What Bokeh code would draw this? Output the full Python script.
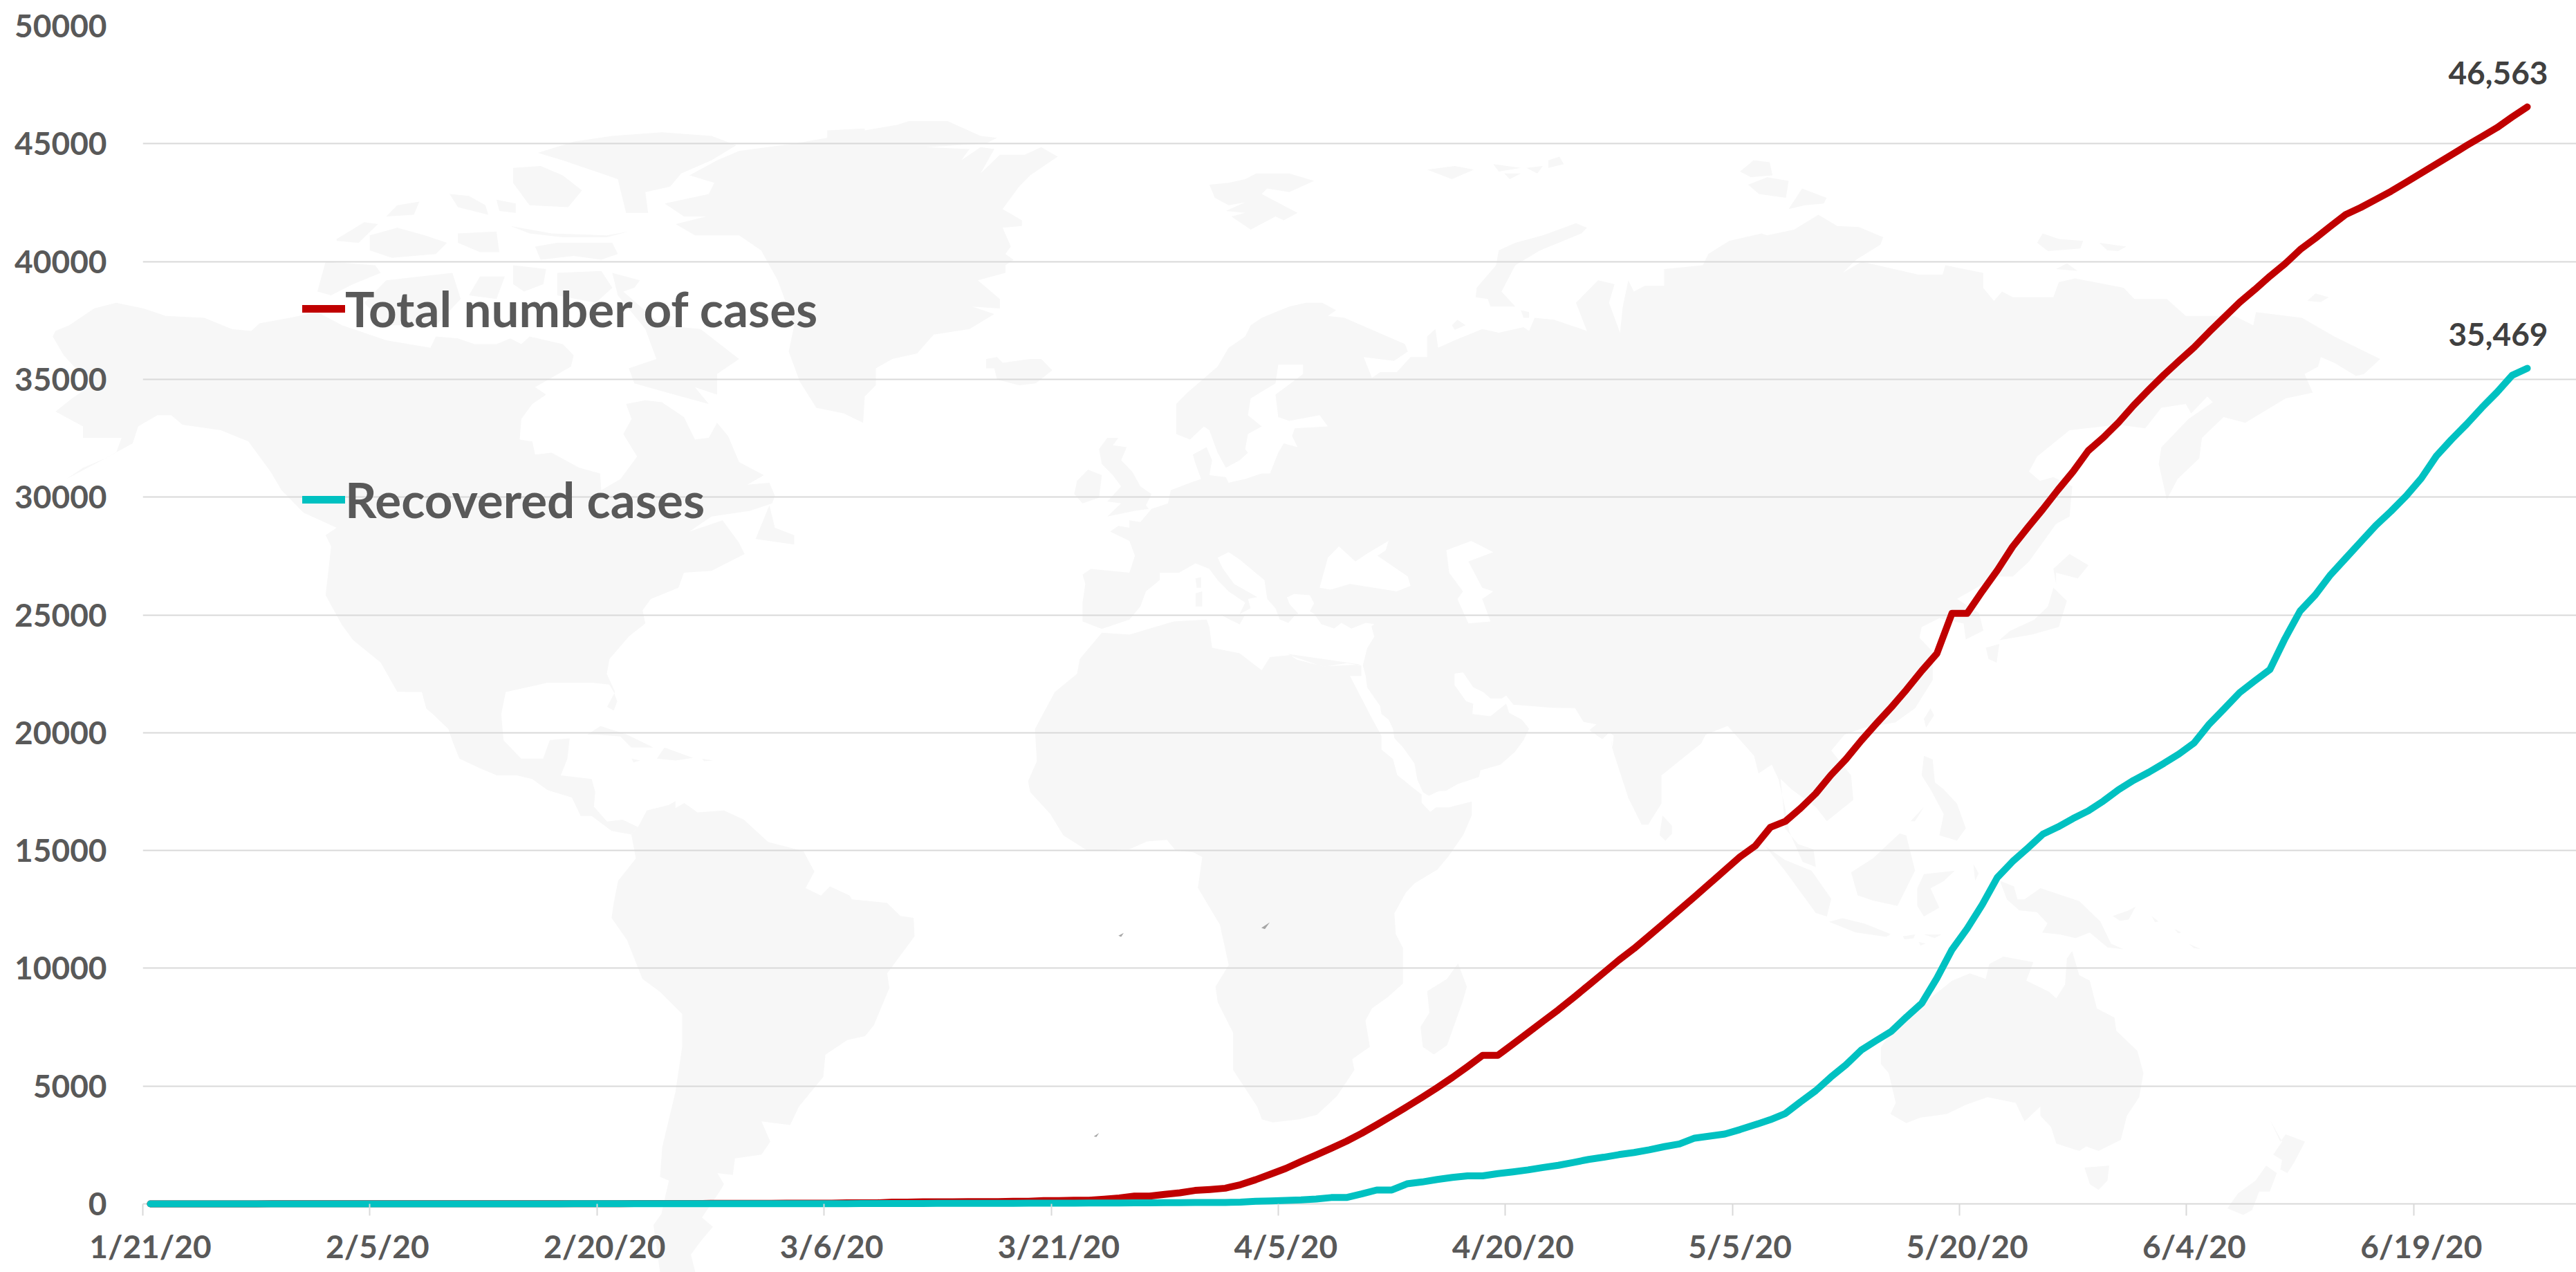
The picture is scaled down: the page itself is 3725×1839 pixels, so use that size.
import pandas as pd
from bokeh.embed import file_html
from bokeh.layouts import column
from bokeh.models import FixedTicker, Label, Legend, LegendItem, Range1d
from bokeh.plotting import figure
from bokeh.resources import INLINE

dates = [f"{d.month}/{d.day}/{d.strftime('%y')}"
         for d in pd.date_range("2020-01-21", periods=158)]

total_cases = [
    0, 0, 0, 0, 0, 0, 0, 0,
    4, 4, 4, 4, 5, 5, 5, 5, 5, 5,
    7, 7, 8, 8, 8, 8, 8, 8, 9, 9, 9, 9,
    9, 9, 13, 13, 13, 13, 13, 19, 19, 21,
    21, 21, 27, 27, 29, 29, 45, 45, 45, 74,
    74, 85, 85, 85, 98, 98, 98, 113, 113, 140,
    140, 153, 153, 198, 248, 333, 333, 405, 468, 570,
    611, 664, 814, 1024, 1264, 1505, 1799, 2076, 2359, 2659,
    2990, 3360, 3736, 4123, 4521, 4933, 5365, 5825, 6302, 6302,
    6781, 7265, 7755, 8238, 8756, 9281, 9813, 10349, 10839, 11380,
    11929, 12481, 13038, 13599, 14163, 14730, 15192, 15980, 16240, 16793,
    17417, 18198, 18878, 19661, 20386, 21084, 21831, 22627, 23358, 25063,
    25063, 26004, 26898, 27892, 28704, 29485, 30307, 31086, 31969, 32532,
    33170, 33896, 34557, 35192, 35788, 36359, 37018, 37642, 38268, 38808,
    39376, 39904, 40507, 40986, 41499, 41990, 42294, 42636, 42982, 43364,
    43752, 44145, 44533, 44925, 45303, 45683, 46133, 46563,
]

recovered_cases = [
    0, 0, 0, 0, 0, 0, 0, 0,
    0, 0, 0, 0, 0, 0, 0, 0, 0, 0, 0, 0,
    1, 1, 1, 3, 3, 3, 3, 3, 4, 4,
    5, 5, 5, 5, 5, 5, 5, 5, 5, 5,
    5, 5, 5, 5, 5, 5, 5, 12, 12, 17,
    17, 17, 20, 20, 20, 20, 23, 25, 26, 26,
    26, 31, 38, 38, 38, 41, 45, 52, 52, 58,
    58, 61, 75, 108, 125, 144, 167, 205, 268, 268,
    420, 588, 588, 850, 930, 1034, 1122, 1188, 1188, 1286,
    1360, 1443, 1546, 1637, 1760, 1887, 1980, 2090, 2181, 2296,
    2429, 2543, 2791, 2876, 2966, 3153, 3359, 3572, 3837, 4332,
    4804, 5381, 5904, 6523, 6932, 7328, 7937, 8512, 9577, 10791,
    11680, 12700, 13860, 14530, 15100, 15690, 16000, 16360, 16680, 17100,
    17580, 17980, 18320, 18700, 19100, 19570, 20370, 21030, 21700, 22200,
    22680, 24000, 25170, 25850, 26700, 27400, 28100, 28800, 29400, 30050,
    30800, 31750, 32450, 33100, 33800, 34450, 35170, 35469,
]

series_names = ["Total number of cases", "Recovered cases"]
y_ticks = list(range(0, 50001, 5000))
x_tick_days = list(range(0, 158, 15))

# Backdrop world map: each block of outline points has its own origin and scale,
# (left, top, x scale, y scale), which turns it into canvas pixels.
NW = (0, 150, 1.2544, 1.845)
NC = (1250, 150, 1.2544, 1.845)
NE = (2500, 150, 1.28, 1.845)
SA = (600, 1000, 1.568, 1.869)
OC = (2700, 1000, 1.96, 1.869)
AF = (1400, 1100, 1.568, 2.24)
AS = (2300, 600, 1.568, 1.96)
ME = (1850, 850, 2.412, 3.0)

north_america = [
    (NW, [(100, 605), (125, 590), (170, 545), (210, 530), (260, 545), (300, 565), (370, 570),
          (420, 600), (455, 605), (470, 585), (525, 570), (575, 555), (620, 590), (700, 630),
          (780, 650), (790, 620), (830, 625), (860, 640), (900, 640), (925, 625), (945, 640),
          (960, 620), (1020, 640), (1040, 670), (1035, 700), (970, 755), (990, 775), (965, 800),
          (945, 840), (942, 895), (965, 900), (970, 935), (1000, 930), (1050, 970), (1088, 985),
          (1090, 1030), (1125, 1000), (1155, 940), (1130, 880), (1145, 840), (1135, 800),
          (1170, 790), (1200, 795), (1240, 835), (1260, 895), (1285, 890), (1300, 850),
          (1320, 885), (1340, 955), (1385, 990), (1355, 1015), (1395, 1010), (1405, 1045),
          (1400, 1065), (1360, 1085), (1290, 1100), (1250, 1140), (1310, 1110), (1340, 1170),
          (1350, 1200), (1290, 1245), (1240, 1250), (1230, 1290), (1180, 1320), (1165, 1350),
          (1170, 1385), (1140, 1420), (1105, 1480), (1100, 1520), (1115, 1568)]),
    (SA, [(435, 40), (450, 50), (458, 25), (450, 0), (440, -20), (400, -25), (300, -25), (205, 0),
          (195, 60), (200, 130), (240, 180), (290, 180), (305, 130), (350, 125), (345, 180),
          (330, 225), (400, 235), (408, 270), (405, 310), (435, 350), (470, 345), (505, 365),
          (490, 385), (445, 375), (400, 335), (375, 335), (355, 285), (300, 265), (265, 235),
          (230, 225), (185, 225), (145, 205), (100, 180), (85, 135), (75, 100), (40, 60),
          (25, 45), (15, 0)]),
    (NW, [(720, 1568), (690, 1490), (640, 1430), (620, 1390), (590, 1310), (600, 1180),
          (590, 1150), (610, 1130), (550, 1090), (510, 1030), (490, 980), (450, 900), (400, 870),
          (330, 855), (310, 830), (285, 830), (250, 860), (240, 905), (190, 945), (150, 970),
          (120, 1000), (210, 930), (220, 890), (150, 890), (150, 860), (100, 820), (130, 785),
          (165, 750), (115, 670), (95, 620)]),
]

south_america = [
    (SA, [(505, 365), (525, 320), (575, 305), (590, 295), (590, 345), (580, 320), (610, 300),
          (640, 325), (700, 320), (745, 345), (800, 405), (880, 430), (905, 485), (885, 530),
          (920, 550), (940, 525), (985, 550), (990, 560), (1070, 570), (1100, 605), (1130, 610),
          (1132, 660), (1070, 760), (1075, 800), (1040, 900), (1020, 930), (980, 940), (930, 980),
          (925, 1040), (870, 1120), (850, 1170), (785, 1160), (805, 1215), (785, 1250), (725, 1260),
          (720, 1305), (685, 1300), (700, 1330), (690, 1350), (650, 1420), (675, 1445), (650, 1480),
          (625, 1520), (635, 1568), (555, 1568), (540, 1440), (558, 1410), (575, 1320), (555, 1310),
          (560, 1230), (590, 1080), (605, 960), (605, 870), (555, 810), (515, 775), (480, 670),
          (445, 610), (450, 570), (460, 510), (500, 450), (490, 385)]),
]

eurasia = [
    (NC, [(395, 1380), (395, 1330), (400, 1280), (395, 1255), (410, 1240), (480, 1250), (490, 1205),
          (480, 1165), (445, 1140), (460, 1125), (480, 1130), (480, 1110), (500, 1115), (520, 1080),
          (550, 1065), (555, 1030), (590, 1010), (610, 1000), (600, 960), (595, 935), (620, 915),
          (630, 950), (625, 990), (655, 995), (660, 1010), (690, 1000), (720, 985), (735, 985),
          (750, 930), (760, 905), (785, 915), (775, 885), (780, 865), (840, 860), (825, 830),
          (770, 845), (750, 835), (745, 775), (795, 720), (795, 695), (750, 695), (745, 745),
          (700, 785), (695, 830), (720, 860), (695, 880), (690, 920), (695, 930), (680, 950),
          (655, 970), (640, 930), (625, 870), (615, 860), (590, 895), (565, 880), (565, 800),
          (585, 770), (640, 700), (660, 650), (690, 620), (700, 590), (720, 570), (745, 555),
          (770, 540), (800, 530), (830, 530), (855, 550), (840, 565), (870, 570), (980, 640),
          (985, 660), (960, 685), (905, 675), (920, 730), (935, 715), (965, 715), (990, 675),
          (1020, 675), (1020, 620), (1035, 600), (1040, 650), (1070, 630), (1120, 600), (1150, 610),
          (1195, 595), (1205, 605), (1215, 570), (1250, 575), (1310, 605), (1290, 530), (1330, 470),
          (1360, 480), (1350, 530), (1370, 610), (1375, 540), (1385, 470), (1395, 500), (1415, 485),
          (1450, 485), (1450, 440), (1520, 430), (1530, 400), (1568, 365)]),
    (NE, [(0, 365), (60, 345), (70, 350), (120, 335), (165, 295), (200, 325), (240, 328), (285, 355),
          (280, 375), (235, 415), (210, 450), (245, 420), (350, 455), (395, 455), (400, 430),
          (470, 450), (470, 490), (490, 525), (505, 500), (525, 515), (600, 515), (610, 475),
          (640, 465), (730, 490), (750, 520), (810, 520), (845, 565), (935, 565), (970, 590),
          (975, 555), (1060, 570), (1120, 620), (1205, 680), (1175, 720), (1160, 725), (1120, 690),
          (1095, 675), (1090, 700), (1065, 720), (1080, 770), (1030, 785), (955, 850), (915, 835),
          (875, 890), (870, 945), (830, 1000), (810, 1055), (795, 960), (800, 915), (850, 840),
          (895, 795), (885, 780), (855, 825), (845, 800), (800, 810), (770, 865), (720, 855),
          (630, 870), (570, 940), (555, 980), (575, 1005), (600, 995), (635, 1020), (630, 1100),
          (605, 1120), (585, 1160), (555, 1220), (525, 1260), (495, 1260)]),
    (AS, [(830, 520), (880, 560), (890, 610), (850, 635), (845, 590), (790, 575), (750, 600),
          (745, 630), (775, 670), (775, 750), (735, 830), (690, 870), (620, 885), (575, 905),
          (545, 950), (590, 1020), (595, 1090), (535, 1150), (510, 1110), (455, 1060), (430, 1030),
          (435, 1090), (440, 1170), (470, 1215), (505, 1230), (510, 1280), (480, 1265), (450, 1180),
          (440, 1110), (425, 1030), (410, 990), (380, 1015), (370, 965), (310, 880), (260, 905),
          (250, 930), (200, 980), (160, 1020), (160, 1100), (130, 1160), (115, 1160), (85, 1085),
          (50, 950), (45, 910)]),
    (ME, [(1160, 700), (1165, 640), (1150, 625), (1125, 655), (1080, 615), (1105, 590), (1060, 580),
          (1030, 520), (950, 518), (815, 505), (790, 465), (775, 478), (735, 478), (710, 450),
          (675, 430), (640, 365), (610, 370), (610, 420), (650, 490), (675, 500), (672, 545),
          (735, 555), (790, 500), (800, 540), (845, 570), (870, 610), (850, 660), (820, 710),
          (770, 765), (700, 790), (695, 818), (620, 850), (580, 878), (555, 880), (520, 900),
          (500, 885), (480, 830), (470, 760), (430, 690), (400, 650), (395, 610), (380, 570),
          (355, 545), (350, 510), (305, 430), (300, 380), (290, 335), (305, 260), (330, 210),
          (320, 165), (330, 155), (300, 150), (250, 175), (215, 150), (190, 175), (145, 155),
          (120, 110), (105, 100), (120, 65), (105, 30), (50, 25), (25, 40), (35, 70), (65, 110),
          (55, 115), (30, 150), (0, 135)]),
    (NC, [(745, 1345), (730, 1320), (725, 1270), (680, 1215), (660, 1195), (640, 1210), (650, 1240),
          (670, 1280), (712, 1315), (695, 1320), (700, 1345), (680, 1360), (690, 1330), (660, 1300),
          (640, 1270), (625, 1240), (600, 1225), (570, 1250), (535, 1250), (535, 1270), (510, 1300),
          (500, 1340), (480, 1375), (430, 1400)]),
]

africa = [
    (NC, [(430, 1410), (480, 1415), (560, 1380), (620, 1375), (625, 1395), (630, 1450), (680, 1465),
          (720, 1510), (735, 1475), (770, 1470), (830, 1500), (900, 1495)]),
    (ME, [(30, 285), (60, 310), (155, 340), (235, 325), (285, 335), (285, 380), (245, 380), (320, 560),
          (355, 640), (355, 700), (395, 740), (410, 810), (460, 860), (495, 895), (495, 930),
          (525, 970), (545, 950), (590, 950), (670, 925), (670, 985), (640, 1070), (590, 1160),
          (550, 1220), (470, 1280), (440, 1320), (400, 1410), (405, 1500), (430, 1560)]),
    (AF, [(985, 620), (985, 720), (950, 765), (915, 800), (900, 840), (910, 925), (870, 965),
          (875, 1000), (835, 1085), (790, 1145), (750, 1160), (690, 1170), (665, 1160), (655, 1120),
          (600, 1000), (600, 880), (565, 780), (560, 730), (590, 660), (570, 530), (520, 410),
          (530, 310), (510, 295), (470, 290), (450, 255), (405, 260), (365, 285), (270, 290),
          (215, 240), (185, 170), (140, 100), (135, 65), (155, 0)]),
    (SA, [(1405, 100), (1450, 0)]),
    (NC, [(385, 1520), (390, 1480)]),
]

greenland = [
    (NW, [(1500, 70), (1568, 65)]),
    (NC, [(0, 70), (60, 55), (80, 45), (150, 45), (210, 85), (240, 90), (220, 105), (110, 115), (190, 120),
          (175, 150), (210, 115), (235, 120), (210, 185), (245, 135), (290, 135), (320, 115), (350, 140),
          (300, 190), (280, 220), (250, 280), (285, 310), (285, 325), (250, 330), (265, 380), (255, 400),
          (270, 415), (255, 430), (255, 450), (205, 470), (245, 520), (245, 545), (195, 540), (235, 560),
          (190, 600), (125, 615), (95, 665), (50, 680), (20, 705), (20, 750), (0, 780)]),
    (NW, [(1565, 850), (1530, 825), (1480, 810), (1450, 740), (1430, 660), (1440, 590), (1410, 470),
          (1380, 390), (1340, 350), (1260, 350), (1225, 320), (1280, 300), (1240, 300), (1205, 265),
          (1285, 240), (1295, 210), (1250, 190), (1300, 150), (1340, 125), (1440, 105), (1500, 90)]),
]

islands = [
    # Canadian Arctic
    (NW, [(975, 130), (1040, 100), (1110, 85), (1200, 75), (1290, 85), (1335, 110), (1290, 150), (1235, 185),
          (1215, 220), (1170, 235), (1175, 290), (1135, 290), (1120, 200), (1020, 150)]),
    (NW, [(930, 170), (980, 165), (1020, 190), (1055, 230), (1030, 275), (960, 270), (930, 210)]),
    (NW, [(815, 240), (850, 245), (880, 270), (885, 295), (830, 275)]),
    (NW, [(900, 255), (935, 265), (935, 290), (905, 285)]),
    (NW, [(720, 270), (760, 260), (750, 295), (700, 300)]),
    (NW, [(610, 360), (660, 315), (685, 320), (650, 370), (610, 365)]),
    (NW, [(670, 350), (720, 330), (770, 350), (810, 370), (790, 400), (710, 410), (670, 390)]),
    (NW, [(830, 345), (900, 340), (905, 395), (870, 395), (830, 370)]),
    (NW, [(925, 325), (1000, 345), (1100, 350), (1140, 340), (1100, 355), (1020, 355), (960, 345)]),
    (NW, [(970, 380), (1010, 370), (1110, 370), (1120, 400), (1090, 415), (1040, 405), (980, 415)]),
    (NW, [(590, 420), (680, 430), (690, 450), (640, 480), (600, 510), (575, 500)]),
    (NW, [(700, 470), (820, 450), (835, 520), (790, 590), (700, 590), (660, 530)]),
    (NW, [(870, 460), (915, 460), (900, 520), (850, 510)]),
    (NW, [(930, 430), (990, 440), (985, 480), (950, 500), (930, 480)]),
    (NW, [(1010, 450), (1090, 445), (1110, 490), (1080, 530), (1010, 510)]),
    (NW, [(1110, 450), (1160, 470), (1150, 490), (1130, 500), (1200, 590), (1270, 600), (1340, 680), (1300, 720),
          (1300, 775), (1260, 755), (1285, 800), (1210, 770), (1150, 745), (1140, 705), (1190, 680), (1170, 600),
          (1120, 510)]),
    (NW, [(1395, 1070), (1405, 1130), (1440, 1150), (1440, 1175), (1370, 1160)]),
    # Caribbean
    (SA, [(390, 115), (420, 92), (480, 115), (540, 150), (490, 150), (465, 120), (410, 115)]),
    (SA, [(548, 180), (565, 150), (630, 178), (590, 185)]),
    (SA, [(490, 180), (510, 185), (495, 190)]),
    (SA, [(650, 180), (675, 185), (655, 187)]),
    # North Atlantic and Europe
    (NC, [(220, 680), (240, 675), (250, 690), (300, 680), (320, 680), (340, 710), (310, 745), (280, 750),
          (240, 735), (235, 705), (220, 705)]),
    (NC, [(440, 890), (460, 890), (450, 910), (475, 915), (465, 950), (485, 980), (500, 1020), (520, 1040),
          (510, 1070), (515, 1080), (490, 1085), (440, 1100), (465, 1065), (440, 1060), (465, 1020), (450, 990),
          (430, 960), (425, 920)]),
    (NC, [(385, 1005), (405, 975), (430, 990), (425, 1050), (395, 1065), (380, 1040)]),
    (NC, [(625, 215), (660, 210), (690, 200), (710, 185), (770, 185), (815, 205), (770, 235), (730, 225),
          (720, 240), (785, 290), (760, 310), (745, 300), (700, 335), (665, 300), (690, 290), (655, 285),
          (690, 262), (660, 270), (635, 250)]),
    (NC, [(1310, 330), (1290, 318), (1230, 350), (1180, 370), (1150, 390), (1145, 430), (1110, 490), (1108, 515),
          (1130, 520), (1135, 540), (1180, 540), (1155, 500), (1180, 430), (1225, 390), (1300, 345)]),
    (NC, [(1020, 175), (1070, 165), (1105, 175), (1065, 200)]),
    (NC, [(1140, 160), (1190, 170), (1150, 180)]),
    (NC, [(1160, 185), (1190, 185), (1170, 200)]),
    (NC, [(1200, 170), (1230, 165), (1220, 185)]),
    (NC, [(1240, 150), (1260, 140), (1268, 160), (1240, 170)]),
    (NC, [(1065, 590), (1075, 575), (1090, 590), (1070, 602)]),
    (NC, [(1190, 550), (1205, 555), (1205, 570), (1195, 570)]),
    (NC, [(600, 1265), (610, 1262), (610, 1290), (602, 1290)]),
    (NC, [(600, 1305), (612, 1300), (612, 1340), (600, 1340)]),
    (NC, [(645, 1362), (690, 1362), (680, 1388)]),
    # Siberian Arctic and Japan
    (NE, [(20, 180), (45, 150), (75, 155), (80, 190), (40, 195)]),
    (NE, [(35, 215), (70, 195), (110, 205), (105, 250), (55, 240)]),
    (NE, [(110, 280), (135, 225), (180, 250), (175, 265), (140, 270)]),
    (NE, [(570, 370), (580, 345), (610, 360), (655, 365), (650, 385), (590, 392)]),
    (NE, [(685, 370), (735, 380), (720, 392), (700, 390)]),
    (NE, [(605, 440), (625, 425), (645, 445)]),
    (NE, [(1070, 525), (1085, 505), (1110, 515), (1095, 528)]),
    (NE, [(630, 1200), (665, 1230), (645, 1265), (605, 1250), (605, 1280), (600, 1240)]),
    (NE, [(600, 1290), (625, 1325), (610, 1395), (560, 1415), (500, 1430), (520, 1405), (565, 1375), (590, 1340)]),
    (NE, [(475, 1450), (500, 1440), (495, 1490), (480, 1480)]),
    # Indian Ocean and Southeast Asia
    (AF, [(1110, 655), (1130, 730), (1120, 780), (1085, 920), (1055, 950), (1030, 925), (1025, 860), (1045, 815),
          (1040, 745), (1085, 705)]),
    (ME, [(1335, 985), (1368, 1030), (1368, 1065), (1345, 1095), (1325, 1070)]),
    (AS, [(770, 830), (778, 850), (760, 885), (755, 860)]),
    (AS, [(755, 965), (775, 975), (780, 1040), (800, 1060), (830, 1100), (850, 1170), (830, 1205), (790, 1190),
          (800, 1130), (770, 1060), (750, 1020)]),
    (AS, [(725, 1150), (755, 1110), (735, 1150)]),
    (AS, [(590, 1295), (640, 1255), (700, 1185), (715, 1190), (735, 1290), (695, 1390), (640, 1375), (605, 1360)]),
    (AS, [(395, 1220), (440, 1260), (500, 1290), (545, 1370), (535, 1420), (510, 1410), (440, 1290)]),
    (AS, [(540, 1435), (570, 1425), (620, 1440), (680, 1470), (670, 1478), (600, 1465)]),
    (AS, [(755, 1300), (825, 1290), (800, 1320), (770, 1340), (790, 1395), (755, 1420), (740, 1390), (740, 1340)]),
    # Oceania
    (OC, [(375, 510), (415, 525), (425, 560), (445, 560), (490, 530), (600, 565), (660, 620), (690, 680), (725, 695),
          (680, 690), (630, 650), (590, 665), (545, 655), (495, 650), (510, 625), (480, 595), (430, 590), (395, 560)]),
    (OC, [(100, 660), (135, 655), (130, 666), (105, 668)]),
    (OC, [(160, 655), (210, 655), (190, 665)]),
    (OC, [(145, 675), (165, 680), (150, 685)]),
    (OC, [(300, 465), (315, 490), (305, 510)]),
    (OC, [(695, 605), (740, 590), (760, 580), (740, 615), (715, 618)]),
    (OC, [(805, 605), (825, 620), (815, 622)]),
    (OC, [(870, 640), (890, 650), (880, 652)]),
    (OC, [(910, 680), (945, 695), (925, 692)]),
    (OC, [(38, 960), (70, 915), (150, 850), (200, 810), (240, 780), (290, 760), (335, 775), (345, 735), (385, 715),
          (470, 730), (450, 780), (515, 810), (535, 828), (560, 790), (565, 720), (580, 700), (600, 765), (630, 780),
          (650, 855), (700, 880), (705, 915), (765, 970), (782, 1030), (770, 1095), (735, 1145), (718, 1210),
          (655, 1240), (620, 1228), (600, 1240), (535, 1220), (520, 1175), (490, 1145), (490, 1120), (445, 1160),
          (420, 1110), (340, 1095), (280, 1115), (225, 1140), (150, 1150), (110, 1165), (65, 1140), (80, 1110),
          (60, 1030), (38, 1005)]),
    (OC, [(615, 1285), (685, 1280), (680, 1320), (655, 1345), (630, 1330)]),
    (OC, [(1140, 1155), (1170, 1215), (1185, 1195), (1240, 1215), (1210, 1270), (1190, 1300), (1170, 1290),
          (1175, 1265), (1150, 1250), (1175, 1215)]),
    (OC, [(1130, 1280), (1160, 1300), (1140, 1350), (1110, 1350), (1090, 1400), (1065, 1413), (1020, 1395),
          (1050, 1355), (1100, 1320)]),
]

inland_seas = [
    # Black Sea and Caspian Sea
    (NC, [(825, 1290), (840, 1210), (860, 1180), (890, 1220), (910, 1200), (950, 1165), (945, 1190), (930, 1205),
          (985, 1260), (990, 1285), (965, 1300), (880, 1280), (845, 1295)]),
    (NC, [(1055, 1190), (1100, 1165), (1140, 1195), (1095, 1220), (1120, 1290), (1140, 1300), (1120, 1320),
          (1135, 1380), (1095, 1385), (1075, 1320), (1085, 1300), (1060, 1250)]),
]

dust_specks = [
    (AF, [(340, 565), (352, 556), (346, 569)]),
    (AF, [(664, 540), (683, 522), (672, 544)]),
    (AF, [(284, 1215), (296, 1204), (290, 1217)]),
]


def to_canvas(blocks):
    xs, ys = [], []
    for (left, top, sx, sy), points in blocks:
        xs += [left + px / sx for px, _ in points]
        ys += [top + py / sy for _, py in points]
    return xs, ys


WIDTH, HEIGHT = 3725, 1839
BG_GREY = "#F7F7F7"

# The map fills the whole page, so it gets a borderless figure of its own behind the chart.
backdrop = figure(width=WIDTH, height=HEIGHT, output_backend="svg", toolbar_location=None,
                  x_range=Range1d(0, WIDTH), y_range=Range1d(HEIGHT, 0),
                  x_axis_type=None, y_axis_type=None, min_border=0, outline_line_color=None,
                  margin=(0, 0, -HEIGHT, 0), frame_align=False)
backdrop.grid.visible = False


def draw_shapes(shapes, color):
    pairs = [to_canvas(s) for s in shapes]
    backdrop.patches([a for a, _ in pairs], [b for _, b in pairs], fill_color=color, line_color=None)


draw_shapes([north_america, south_america, eurasia, africa, greenland] + [[i] for i in islands], BG_GREY)
draw_shapes([[s] for s in inland_seas], "white")
draw_shapes([[s] for s in dust_specks], "#A6A6A6")

# The frame runs a few pixels below zero so the curves keep their full width along the baseline.
LEFT, RIGHT, TOP, ZERO, FRAME_BOTTOM = 206, 3665, 37, 1740, 1746
px_per_day = (RIGHT - LEFT) / 158
units_per_px = 50000 / (ZERO - TOP)
p = figure(width=WIDTH, height=HEIGHT, output_backend="svg", toolbar_location=None,
           x_range=Range1d(-0.5, -0.5 + (WIDTH - LEFT) / px_per_day),
           y_range=Range1d(-(FRAME_BOTTOM - ZERO) * units_per_px, 50000),
           min_border_left=LEFT, min_border_right=0, min_border_top=TOP, min_border_bottom=HEIGHT - FRAME_BOTTOM,
           background_fill_color=None, border_fill_color=None, outline_line_color=None, frame_align=False)
p.xgrid.visible = False

FONT = "Lato"
TEXT = "#595959"
p.ygrid.ticker = FixedTicker(ticks=y_ticks)
p.ygrid.grid_line_color = "#D9D9D9"
p.ygrid.grid_line_width = 2
p.ygrid.bounds = (-0.5, 157.5)

p.yaxis.ticker = FixedTicker(ticks=y_ticks)
p.yaxis.axis_line_color = None
p.yaxis.major_tick_line_color = None
p.yaxis.minor_tick_line_color = None
p.yaxis.major_label_standoff = 46
p.yaxis.major_label_text_font = FONT
p.yaxis.major_label_text_font_style = "bold"
p.yaxis.major_label_text_font_size = "46px"
p.yaxis.major_label_text_color = TEXT
p.yaxis.formatter.use_scientific = False

# Tick marks sit on the day boundaries, labels on the day centres
p.xaxis.bounds = (-0.5, 157.5)
p.xaxis.ticker = FixedTicker(ticks=x_tick_days, minor_ticks=[d - 0.5 for d in x_tick_days])
p.xaxis.major_label_overrides = {d: dates[d] for d in x_tick_days}
p.xaxis.axis_line_color = None
p.xaxis.major_tick_line_color = None
p.xaxis.major_tick_in = 0
p.xaxis.major_tick_out = 0
p.xaxis.minor_tick_line_color = "#D9D9D9"
p.xaxis.minor_tick_line_width = 2
p.xaxis.minor_tick_in = FRAME_BOTTOM - ZERO
p.xaxis.minor_tick_out = 17 - (FRAME_BOTTOM - ZERO)
p.xaxis.major_label_standoff = 16
p.xaxis.major_label_text_font = FONT
p.xaxis.major_label_text_font_style = "bold"
p.xaxis.major_label_text_font_size = "46px"
p.xaxis.major_label_text_color = TEXT

days = list(range(len(dates)))
RED = "#C00000"
TEAL = "#00C1C1"
p.line(days, total_cases, line_color=RED, line_width=10, line_cap="round", line_join="round")
p.line(days, recovered_cases, line_color=TEAL, line_width=10, line_cap="round", line_join="round")

# Legend keys are a little heavier than the curves themselves
no_data = [float("nan"), float("nan")]
key_red = p.line(no_data, no_data, line_color=RED, line_width=11, line_cap="round")
key_teal = p.line(no_data, no_data, line_color=TEAL, line_width=11, line_cap="round")
legend = Legend(items=[LegendItem(label=series_names[0], renderers=[key_red]),
                       LegendItem(label=series_names[1], renderers=[key_teal])],
                location=(231, 982), orientation="vertical", background_fill_alpha=0, border_line_alpha=0,
                padding=0, margin=0, spacing=191, glyph_width=62, glyph_height=82, label_standoff=0,
                label_text_font=FONT, label_text_font_style="bold", label_text_font_size="71px",
                label_text_color=TEXT, label_height=82)
p.add_layout(legend)

for values in (total_cases, recovered_cases):
    p.add_layout(Label(x=days[-1], y=values[-1], text=f"{values[-1]:,}", x_offset=30, y_offset=49,
                       text_align="right", text_baseline="middle", text_font=FONT,
                       text_font_style="bold", text_font_size="46px", text_color="#404040"))

page = column(backdrop, p, margin=0, spacing=0)
open("out.html", "w").write(file_html(page, INLINE))
